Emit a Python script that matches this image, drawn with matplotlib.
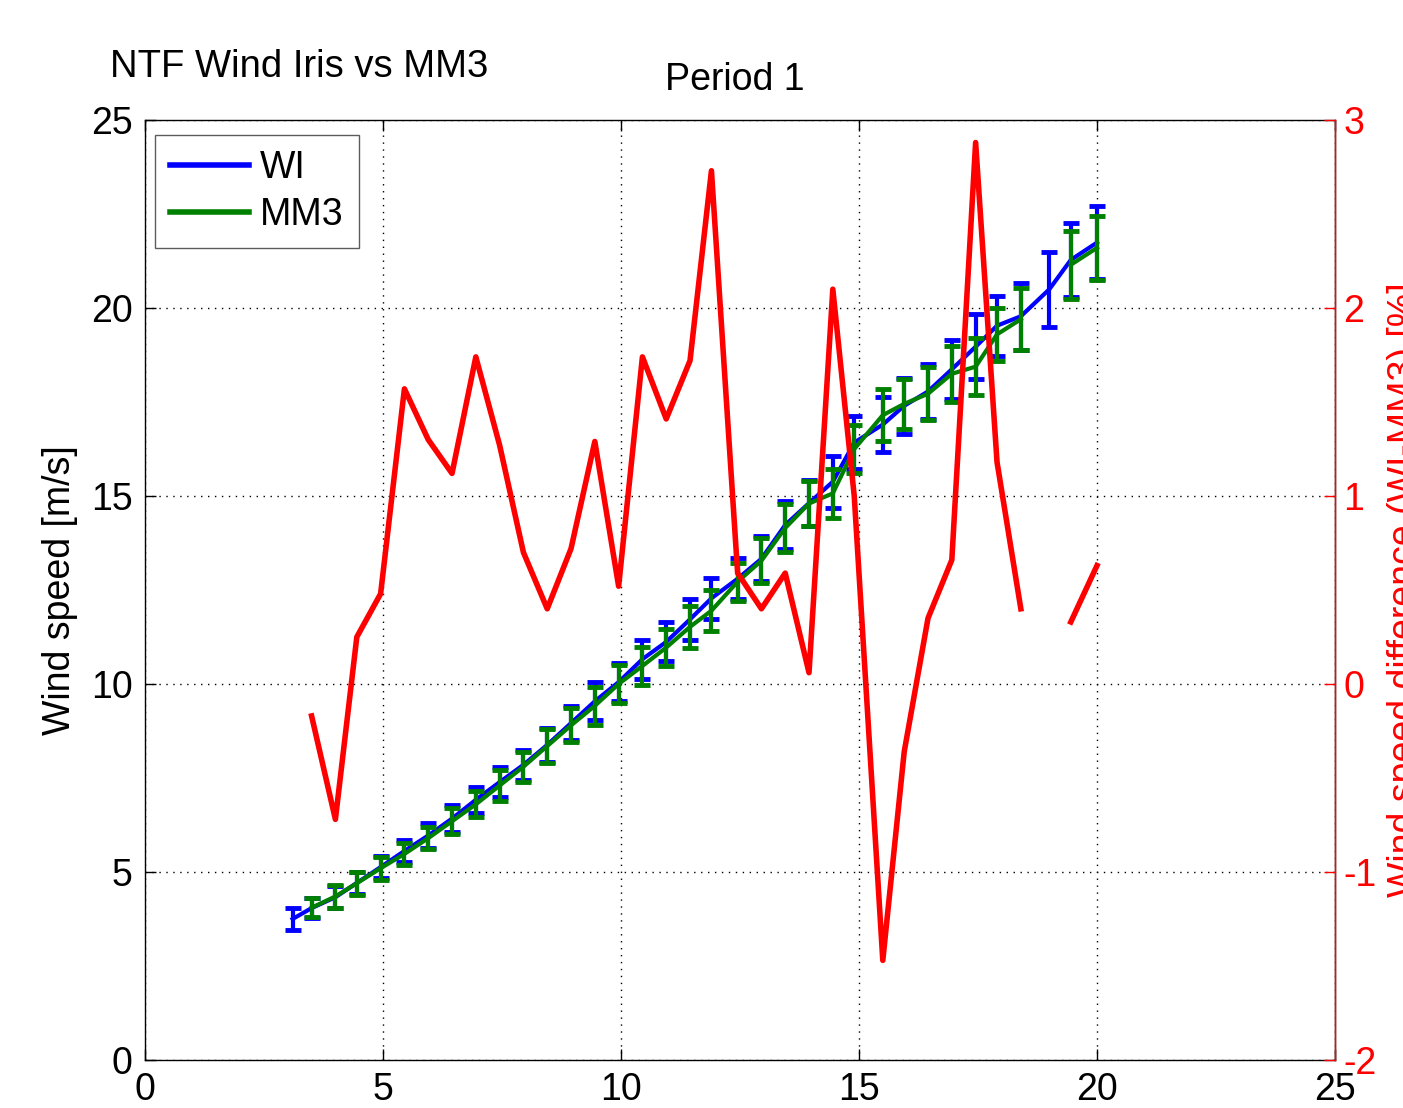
import numpy as np
import matplotlib
matplotlib.use("Agg")
import matplotlib.pyplot as plt
from matplotlib.lines import Line2D

plt.rcParams['font.family'] = ['Liberation Sans', 'DejaVu Sans']
plt.rcParams['axes.unicode_minus'] = False

# bin positions (reference wind speed, m/s)
bins = [3.1, 3.5, 4.0, 4.45, 4.95, 5.45, 5.95, 6.45, 6.95, 7.45, 7.95, 8.45,
        8.95, 9.45, 9.95, 10.45, 10.95, 11.45, 11.9, 12.45, 12.95, 13.45,
        13.95, 14.45, 14.9, 15.5, 15.95, 16.45, 16.95, 17.45, 17.9, 18.4,
        19.0, 19.45, 20.0]

# Wind Iris mean and std
wi_mean = [3.75, 4.04, 4.33, 4.71, 5.13, 5.56, 5.97, 6.42, 6.92, 7.39, 7.85, 8.38,
           8.96, 9.54, 10.05, 10.66, 11.12, 11.72, 12.28, 12.80, 13.33, 14.23,
           14.81, 15.38, 16.42, 16.90, 17.40, 17.78, 18.37, 18.97, 19.53, 19.78,
           20.50, 21.28, 21.74]
wi_std = [0.28, 0.27, 0.30, 0.30, 0.30, 0.30, 0.32, 0.35, 0.35, 0.40, 0.40, 0.45,
          0.45, 0.50, 0.50, 0.52, 0.52, 0.55, 0.55, 0.55, 0.60, 0.65,
          0.62, 0.69, 0.70, 0.72, 0.75, 0.72, 0.78, 0.86, 0.80, 0.89,
          1.00, 0.98, 0.97]

# MM3 mean and std (no data in first and 19 m/s bin)
mm3_mean = [np.nan, 4.05, 4.35, 4.70, 5.10, 5.48, 5.90, 6.35, 6.80, 7.30, 7.80, 8.35,
            8.90, 9.42, 10.00, 10.48, 10.97, 11.52, 11.95, 12.72, 13.28, 14.15,
            14.80, 15.07, 16.25, 17.15, 17.45, 17.72, 18.25, 18.44, 19.30, 19.70,
            np.nan, 21.15, 21.60]
mm3_std = [np.nan, 0.25, 0.30, 0.30, 0.30, 0.30, 0.30, 0.35, 0.35, 0.40, 0.40, 0.45,
           0.45, 0.50, 0.50, 0.50, 0.50, 0.55, 0.55, 0.50, 0.60, 0.65,
           0.60, 0.66, 0.65, 0.70, 0.66, 0.70, 0.75, 0.75, 0.70, 0.83,
           np.nan, 0.90, 0.86]

# relative difference (WI-MM3) in %
diff_pct = [np.nan, -0.17, -0.72, 0.25, 0.48, 1.57, 1.30, 1.12, 1.74, 1.27, 0.70, 0.40,
            0.72, 1.29, 0.52, 1.74, 1.41, 1.72, 2.73, 0.59, 0.40, 0.59,
            0.06, 2.10, 1.00, -1.47, -0.36, 0.35, 0.66, 2.88, 1.18, 0.40,
            np.nan, 0.33, 0.63]

FS = 27

fig = plt.figure(figsize=(14.03, 11.08), dpi=100)
ax = fig.add_axes([145 / 1403, 48 / 1108, 1190 / 1403, 940 / 1108])
ax2 = ax.twinx()

ax.errorbar(bins, wi_mean, yerr=wi_std, color='blue', lw=3, elinewidth=3,
            capsize=6, capthick=3.5, zorder=3)
ax.errorbar(bins, mm3_mean, yerr=mm3_std, color=(0, 0.5, 0), lw=3, elinewidth=3,
            capsize=6, capthick=3.5, zorder=4)
ax2.plot(bins, diff_pct, color='red', lw=4)

ax.set_xlim(0, 25)
ax.set_ylim(0, 25)
ax.set_xticks([0, 5, 10, 15, 20, 25])
ax.set_yticks([0, 5, 10, 15, 20, 25])
ax2.set_ylim(-2, 3)
ax2.set_yticks([-2, -1, 0, 1, 2, 3])

ax.grid(True, color='black', linestyle=(0, (1, 4)), linewidth=1)
ax.tick_params(axis='both', direction='in', length=8, width=1, labelsize=FS,
               top=True, right=False)
ax.tick_params(axis='x', pad=9)
ax.tick_params(axis='y', pad=9)
ax2.tick_params(axis='y', direction='in', length=8, width=1, labelsize=FS,
                colors='red', pad=6)
for sp in ax.spines.values():
    sp.set_linewidth(1)
for name, sp in ax2.spines.items():
    sp.set_linewidth(1)
    if name == 'right':
        sp.set_color('red')
    else:
        sp.set_visible(False)

handles = [Line2D([], [], color='blue', lw=4),
           Line2D([], [], color=(0, 0.5, 0), lw=4)]
leg = ax.legend(handles, ['WI', 'MM3'], loc='upper left', fontsize=FS,
                bbox_to_anchor=(10 / 1190, 1 - 15 / 940), borderaxespad=0,
                fancybox=False, handlelength=2.1, handletextpad=0.3,
                borderpad=0.4, labelspacing=0.3)
leg.get_frame().set_edgecolor('0.2')
leg.get_frame().set_linewidth(1)

fig.text(110 / 1403, 1 - 77 / 1108, 'NTF Wind Iris vs MM3', fontsize=27.5,
         va='baseline', ha='left')
fig.text(735 / 1403, 1 - 90 / 1108, 'Period 1', fontsize=FS,
         va='baseline', ha='center')
fig.text(42 / 1403, 1 - 590 / 1108, 'Wind speed [m/s]', fontsize=FS,
         rotation=90, ha='left', va='center')
fig.text(1387 / 1403, 1 - 590 / 1108, 'Wind speed difference (WI-MM3) [%]',
         fontsize=FS, rotation=90, ha='left', va='center', color='red')

fig.savefig('out.png', dpi=100)
